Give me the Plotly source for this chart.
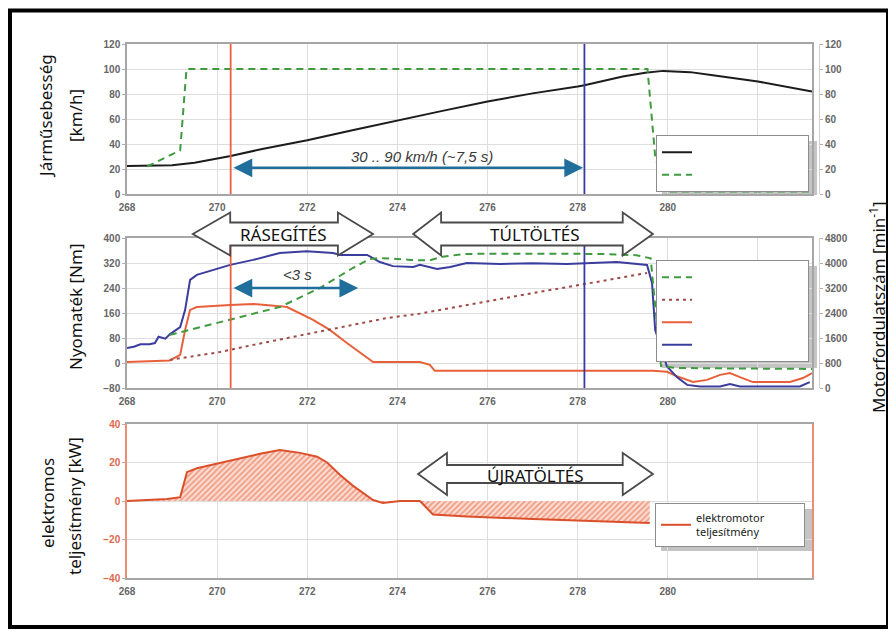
import plotly.graph_objects as go

# ---------------- data ----------------
x_range = [268, 283.2]
x_tickvals = [268, 270, 272, 274, 276, 278, 280, 282]
x_ticktext = ["268", "270", "272", "274", "276", "278", "280", ""]

# top panel: vehicle speed [km/h] (left) and pedal signal (right, 0..120)
speed_t = [268.0, 268.5, 269.0, 269.5, 270.0, 270.3, 271.0, 272.0, 273.0, 274.0, 275.0, 276.0,
           277.0, 278.0, 278.15, 279.0, 279.5, 279.9, 280.5, 281.0, 282.0, 283.2]
speed_v = [22.4, 22.5, 23.0, 25.0, 28.0, 30.4, 36.0, 43.0, 51.0, 59.0, 66.5, 74.0,
           80.5, 86.0, 87.0, 94.0, 97.0, 98.5, 97.5, 95.0, 90.0, 82.0]
pedal_t = [268.45, 269.1, 269.18, 269.32, 279.55, 279.72, 279.95, 283.2]
pedal_v = [22, 33, 35, 100, 100, 30, 2, 2]

# middle panel: torques [Nm] (left) and speeds [1/min] (right)
torque_t = [268.0, 268.15, 268.3, 268.5, 268.62, 268.7, 268.85, 268.95, 269.05, 269.18, 269.29, 269.4,
            269.55, 270.29, 270.8, 271.39, 271.99, 272.57, 272.73, 273.33, 273.61, 273.9, 274.35,
            274.5, 274.88, 275.17, 275.54, 276.28, 277.0, 277.76, 278.87, 279.54, 279.65, 279.72,
            279.98, 280.2, 280.43, 280.71, 281.16, 281.38, 281.6, 282.93, 283.15]
torque_v = [48, 52, 60, 60, 64, 84, 78, 92, 102, 115, 170, 266,
            282, 314, 330, 352, 358, 352, 346, 346, 323, 310, 307,
            314, 301, 307, 320, 317, 319, 317, 323, 314, 256, 106,
            -10, -45, -70, -75, -75, -67, -75, -75, -61]
em_torque_t = [268.0, 268.95, 269.18, 269.29, 269.4, 269.55, 270.29, 270.8, 271.39, 271.55, 272.13,
               272.5, 272.88, 273.33, 273.46, 274.5, 274.72, 274.83, 279.67, 279.98, 280.2, 280.56,
               280.87, 281.16, 281.38, 281.6, 281.89, 282.71, 283.0, 283.2]
em_torque_v = [3, 8, 26, 106, 170, 179, 186, 189, 182, 179, 138,
               106, 64, 16, 3, 3, -6, -25, -25, -28, -42, -61,
               -54, -38, -32, -45, -61, -61, -48, -32]
engine_t = [268.95, 270.29, 271.39, 272.28, 273.01, 273.39, 273.61, 274.3, 274.7, 275.0, 275.5,
            276.5, 277.5, 278.5, 279.3, 279.55, 279.62, 279.85, 280.2, 281.0, 282.0, 283.2]
engine_v = [1700, 2180, 2590, 3200, 3840, 4130, 4160, 4100, 4080, 4200, 4290,
            4300, 4300, 4290, 4250, 4190, 4150, 700, 640, 630, 620, 610]
em_rpm_t = [268.95, 270.06, 270.8, 271.55, 272.28, 273.01, 273.77, 274.5, 275.99, 277.01, 278.05, 279.54]
em_rpm_v = [900, 1150, 1380, 1600, 1790, 2020, 2240, 2380, 2780, 3040, 3300, 3680]

# bottom panel: electric power [kW]
power_t = [268.0, 268.89, 269.18, 269.33, 269.55, 269.91, 270.44, 270.95, 271.39, 271.84, 272.22,
           272.44, 272.73, 273.01, 273.46, 273.68, 274.06, 274.5, 274.79, 275.54, 277.01, 278.5, 279.6]
power_v = [0, 1, 2, 15, 17, 19, 22, 24.5, 26.5, 25, 23,
           20, 13.5, 8, 0.5, -1, 0, 0, -7, -8, -9.4, -10.4, -11.4]

t_start, t_end = 270.3, 278.15          # 30 km/h and 90 km/h markers
speed_arrow_y = 21
boost_arrow = [270.33, 273.13, 240]      # "<3 s"
phase_boost = [269.46, 270.29, 272.68, 273.46]
phase_over = [274.35, 274.97, 279.0, 279.67]
phase_regen = [274.46, 275.1, 279.0, 279.67]

# ---------------- layout helpers ----------------
W, H = 896, 632
OFF = 8   # page offset of the figure inside the browser window
def px(x): return (x - OFF) / W
def py(y): return 1 - (y - OFF) / H

X0, X1 = 127, 812
xdom = [px(X0), px(X1)]
def xpaper(t):
    return xdom[0] + (t - x_range[0]) / (x_range[1] - x_range[0]) * (xdom[1] - xdom[0])

grid = "#dedede"
axline = "#a6a6a6"
tickfont = dict(family="Liberation Sans", size=10, color="#666666", weight="bold")
NB = "\u00a0" * 27

fig = go.Figure()

# top
fig.add_trace(go.Scatter(x=speed_t, y=speed_v, xaxis="x", yaxis="y", mode="lines", name=NB,
                         line=dict(color="#1c1c1c", width=2), legend="legend"))
fig.add_trace(go.Scatter(x=pedal_t, y=pedal_v, xaxis="x", yaxis="y2", mode="lines", name=NB,
                         line=dict(color="#3f9b3f", width=2, dash="7px,5px"), legend="legend"))
# middle
fig.add_trace(go.Scatter(x=engine_t, y=engine_v, xaxis="x2", yaxis="y4", mode="lines", name=NB,
                         line=dict(color="#3f9b3f", width=2, dash="7px,5px"), legend="legend2"))
fig.add_trace(go.Scatter(x=em_rpm_t, y=em_rpm_v, xaxis="x2", yaxis="y4", mode="lines", name=NB,
                         line=dict(color="#a04a48", width=2, dash="3px,4px"), legend="legend2"))
fig.add_trace(go.Scatter(x=em_torque_t, y=em_torque_v, xaxis="x2", yaxis="y3", mode="lines", name=NB,
                         line=dict(color="#e8603a", width=2), legend="legend2"))
fig.add_trace(go.Scatter(x=torque_t, y=torque_v, xaxis="x2", yaxis="y3", mode="lines", name=NB,
                         line=dict(color="#3b3d9e", width=2), legend="legend2"))
# bottom: hatched area + line
fig.add_trace(go.Scatter(x=power_t, y=power_v, xaxis="x3", yaxis="y5", mode="lines", showlegend=False,
                         line=dict(width=0), fill="tozeroy", hoverinfo="skip",
                         fillpattern=dict(shape="/", fgcolor="#e35a35", bgcolor="#fbdcd1", size=4, solidity=0.45)))
fig.add_trace(go.Scatter(x=power_t, y=power_v, xaxis="x3", yaxis="y5", mode="lines",
                         name="elektromotor" + "\u00a0" * 12 + "<br>teljesítmény",
                         line=dict(color="#dc4f2b", width=2), legend="legend3"))

def xax(anchor):
    return dict(domain=xdom, range=x_range, anchor=anchor, tickvals=x_tickvals, ticktext=x_ticktext,
                showgrid=True, gridcolor=grid, showline=True, linecolor=axline, linewidth=1.5, mirror=True,
                ticks="", tickfont=tickfont, zeroline=False, fixedrange=True, ticklabelstandoff=3,
                automargin=False)

def yax(dom, rng, dtick, anchor, color=axline, fcolor=None):
    f = dict(tickfont)
    if fcolor:
        f["color"] = fcolor
    return dict(domain=dom, range=rng, dtick=dtick, anchor=anchor, showgrid=True, gridcolor=grid,
                showline=True, linecolor=color, linewidth=1.5, mirror=True, ticks="outside", ticklen=3,
                tickcolor="#b0b0b0", tickfont=f, zeroline=False, fixedrange=True, automargin=False)

def yright(rng, dtick, over):
    return dict(range=rng, dtick=dtick, overlaying=over, side="right", anchor="free", position=px(819),
                showgrid=False, showline=True, linecolor="#cfcfcf", ticks="outside", ticklen=3,
                tickcolor="#b0b0b0", tickfont=tickfont, zeroline=False, fixedrange=True, automargin=False)

top_dom = [py(194), py(44)]
mid_dom = [py(388), py(238)]
bot_dom = [py(578), py(424)]

legend_common = dict(xanchor="left", yanchor="top", bgcolor="white", bordercolor="#8c8c8c",
                     borderwidth=1, itemclick=False, itemdoubleclick=False)

fig.update_layout(
    width=W, height=H, margin=dict(l=0, r=0, t=0, b=0, pad=0, autoexpand=False),
    paper_bgcolor="white", plot_bgcolor="rgba(0,0,0,0)",
    showlegend=True,
    xaxis=xax("y"), yaxis=yax(top_dom, [0, 120], 20, "x"), yaxis2=yright([0, 120], 20, "y"),
    xaxis2=xax("y3"), yaxis3=yax(mid_dom, [-80, 400], 80, "x2"), yaxis4=yright([0, 4800], 800, "y3"),
    xaxis3=xax("y5"), yaxis5=yax(bot_dom, [-40, 40], 20, "x3", color="#ec8d74", fcolor="#e0684a"),
    legend=dict(x=px(656), y=py(135), font=dict(family="Open Sans", size=15), **legend_common),
    legend2=dict(x=px(656), y=py(260), font=dict(family="Open Sans", size=15), **legend_common),
    legend3=dict(x=px(655), y=py(503), font=dict(family="Noto Sans", size=11, color="#222"), **legend_common),
)

shapes = []
# legend shadows
for (x0, y0, x1, y1) in [(662, 141, 817, 195), (662, 266, 817, 368), (661, 509, 814, 551)]:
    shapes.append(dict(type="rect", xref="paper", yref="paper", x0=px(x0), x1=px(x1), y0=py(y1), y1=py(y0),
                       fillcolor="#c4c4c4", line=dict(width=0), layer="below"))
# marker lines
for xr, yr in [("x", "y domain"), ("x2", "y3 domain")]:
    shapes.append(dict(type="line", xref=xr, yref=yr, x0=t_start, x1=t_start, y0=0, y1=1,
                       line=dict(color="#e8623f", width=1.8)))
    shapes.append(dict(type="line", xref=xr, yref=yr, x0=t_end, x1=t_end, y0=0, y1=1,
                       line=dict(color="#3a3aa0", width=1.8)))

def hollow_arrow(xs, yc, hh, hs):
    a, b, c, d = [xpaper(v) for v in xs]
    pts = [(a, yc), (b, yc - hh), (b, yc - hs), (c, yc - hs), (c, yc - hh), (d, yc),
           (c, yc + hh), (c, yc + hs), (b, yc + hs), (b, yc + hh)]
    path = "M" + " L".join(f"{x:.5f},{py(y):.5f}" for x, y in pts) + " Z"
    return dict(type="path", xref="paper", yref="paper", path=path, fillcolor="white",
                line=dict(color="#4a4a4a", width=1.8), layer="above")

shapes.append(hollow_arrow(phase_boost, 234, 21.5, 11.5))
shapes.append(hollow_arrow(phase_over, 234, 21.5, 11.5))
shapes.append(hollow_arrow(phase_regen, 474, 21, 9))
# outer frame
shapes.append(dict(type="rect", xref="paper", yref="paper", x0=px(10), x1=px(888), y0=py(627), y1=py(10.5),
                   line=dict(color="black", width=4), fillcolor="rgba(0,0,0,0)", layer="above"))

title_font = dict(family="Noto Sans", size=17, color="#111")
ann = []
for text, x, y in [("Járműsebesség", 45, 116), ("[km/h]", 75, 116), ("Nyomaték [Nm]", 75, 307),
                   ("elektromos", 47, 503), ("teljesítmény [kW]", 74, 506),
                   ("Motorfordulatszám [min<sup>-1</sup>]", 877, 307)]:
    ann.append(dict(text=text, x=px(x), y=py(y), xref="paper", yref="paper", textangle=-90,
                    showarrow=False, font=title_font, xanchor="center", yanchor="middle"))
phase_font = dict(family="Noto Sans", size=17, color="#111")
for text, x, y in [("RÁSEGÍTÉS", 283, 234), ("TÚLTÖLTÉS", 535, 234), ("ÚJRATÖLTÉS", 535, 476)]:
    ann.append(dict(text=text, x=px(x), y=py(y), xref="paper", yref="paper", showarrow=False,
                    font=phase_font, xanchor="center", yanchor="middle"))
# blue double arrows
ann.append(dict(x=278.12, y=speed_arrow_y, ax=270.33, ay=speed_arrow_y, xref="x", yref="y", axref="x", ayref="y",
                text="", showarrow=True, arrowside="end+start", arrowhead=2, startarrowhead=2,
                arrowsize=1.5, startarrowsize=1.5, arrowwidth=2.5, arrowcolor="#1f6e9c"))
ann.append(dict(x=boost_arrow[1], y=boost_arrow[2], ax=boost_arrow[0], ay=boost_arrow[2], xref="x2", yref="y3",
                axref="x2", ayref="y3", text="", showarrow=True, arrowside="end+start", arrowhead=2,
                startarrowhead=2, arrowsize=1.5, startarrowsize=1.5, arrowwidth=2.5, arrowcolor="#1f6e9c"))
ann.append(dict(text="<i>30 .. 90 km/h (~7,5 s)</i>", x=274.55, y=30, xref="x", yref="y", showarrow=False,
                font=dict(family="Liberation Sans", size=15, color="#3a3a3a")))
ann.append(dict(text="<i>&lt;3 s</i>", x=271.79, y=282, xref="x2", yref="y3", showarrow=False,
                font=dict(family="Liberation Sans", size=15, color="#3a3a3a")))

fig.update_layout(shapes=shapes, annotations=ann)
fig.write_html("out.html")
